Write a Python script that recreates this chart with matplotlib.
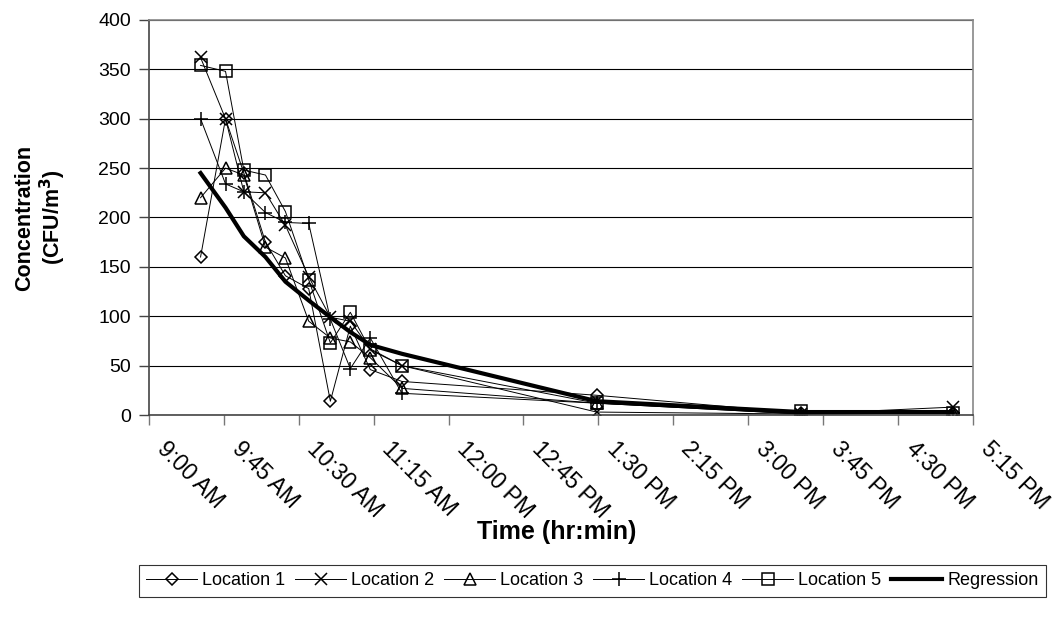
import matplotlib
matplotlib.use("Agg")
import matplotlib.pyplot as plt
from matplotlib.ticker import FixedLocator
from matplotlib.transforms import ScaledTranslation

plt.rcParams['font.family'] = ['Liberation Sans', 'DejaVu Sans']

# sampling times (24h clock) and measured concentrations
times = ["9:31", "9:46", "9:57", "10:10", "10:22", "10:36", "10:49",
         "11:01", "11:13", "11:32", "13:29", "15:32", "17:03"]
loc1 = [160, 300, 245, 175, 141, 128, 14, 90, 46, 34, 20, 2, 2]
loc2 = [362, 300, 226, 225, 192, 140, 99, 95, 67, 50, 3, 1, 8]
loc3 = [220, 250, 243, 170, 159, 95, 78, 74, 58, 27, 12, 1, 2]
loc4 = [300, 234, 226, 205, 195, 194, 97, 47, 78, 22, 12, 1, 2]
loc5 = [354, 348, 248, 243, 206, 137, 73, 104, 66, 50, 12, 4, 2]
regression = [245, 210, 181, 160, 135, 116, 99, 84, 71, 62, 14, 3, 3]

tick_labels = ["9:00 AM", "9:45 AM", "10:30 AM", "11:15 AM", "12:00 PM",
               "12:45 PM", "1:30 PM", "2:15 PM", "3:00 PM", "3:45 PM",
               "4:30 PM", "5:15 PM"]


def to_hours(s):
    h, m = s.split(":")
    return int(h) + int(m) / 60.0


x = [to_hours(t) for t in times]

fig = plt.figure(figsize=(10.55, 6.24), dpi=100)
ax = fig.add_axes([0.1412, 0.3349, 0.7808, 0.6331])

series = [
    ("Location 1", loc1, "D", 6.5),
    ("Location 2", loc2, "x", 9),
    ("Location 3", loc3, "^", 8.5),
    ("Location 4", loc4, "+", 10),
    ("Location 5", loc5, "s", 8),
]
for name, vals, mk, ms in series:
    ax.plot(x, vals, color="black", lw=0.7, marker=mk, ms=ms,
            mfc="none", mec="black", mew=1.1, label=name)
ax.plot(x, regression, color="black", lw=3, label="Regression")

ax.set_xlim(9.0, 17.25)
ax.set_ylim(0, 400)
ax.set_yticks(range(0, 401, 50))
ax.yaxis.grid(True, color="black", lw=0.8)
ax.set_axisbelow(True)

ax.tick_params(axis="x", direction="out", length=7, width=1, color="#777777", pad=6)
ax.tick_params(axis="y", direction="out", length=7, width=1, color="#444444",
               labelsize=14, pad=6)

xt = [9.0 + 0.75 * i for i in range(len(tick_labels))]
ax.xaxis.set_major_locator(FixedLocator(xt))
ax.set_xticklabels(tick_labels, rotation=-45, ha="left", va="top",
                   rotation_mode="anchor", fontsize=16.5)
# nudge the slanted time labels so each one starts just right of its tick
shift = ScaledTranslation(0.2, -0.04, fig.dpi_scale_trans)
for lbl in ax.get_xticklabels():
    lbl.set_transform(lbl.get_transform() + shift)

for side in ["top", "right"]:
    ax.spines[side].set_color("#888888")
ax.spines["left"].set_color("#444444")
ax.spines["bottom"].set_color("#444444")
for s in ax.spines.values():
    s.set_linewidth(1.2)

ax.set_xlabel("Time (hr:min)", fontsize=18, fontweight="bold", va="top")
ax.xaxis.set_label_coords(0.495, -0.266)
ax.set_ylabel("Concentration\n(CFU/m$^\\mathbf{3}$)", fontsize=15.5,
              fontweight="bold", linespacing=1.15)
ax.yaxis.set_label_coords(-0.098, 0.5)

leg = fig.legend(loc="center", bbox_to_anchor=(0.5616, 0.069), ncol=6,
                 fontsize=13, frameon=True, fancybox=False, edgecolor="black",
                 handlelength=2.8, handletextpad=0.3, columnspacing=0.55,
                 borderpad=0.4)
leg.get_frame().set_linewidth(0.8)

fig.savefig("out.png", dpi=100)
